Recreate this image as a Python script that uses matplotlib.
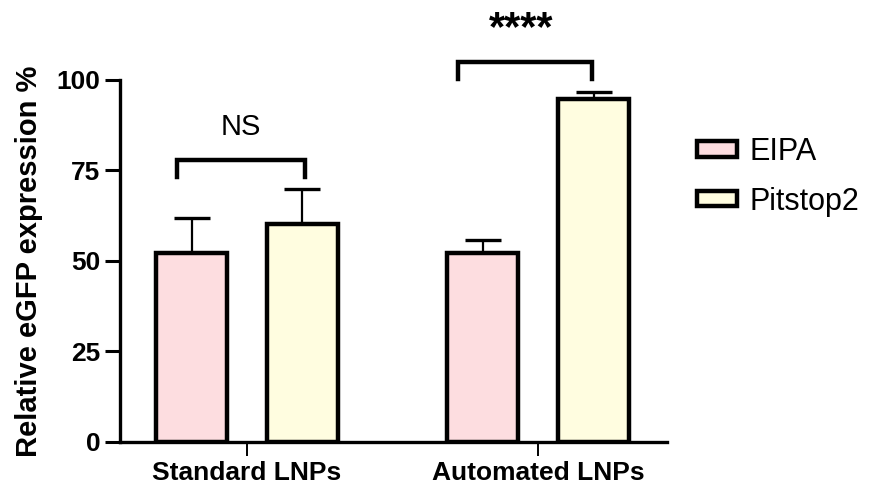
import numpy as np
import matplotlib.pyplot as plt
from matplotlib.patches import Patch

plt.rcParams['font.family'] = ['Liberation Sans', 'DejaVu Sans']

groups = ['Standard LNPs', 'Automated LNPs']
treatments = ['EIPA', 'Pitstop2']
eipa_mean = [52.2, 52.2]
eipa_err = [9.7, 3.6]
pitstop_mean = [60.2, 94.7]
pitstop_err = [9.7, 2.0]
sig_labels = ['NS', '****']
colors = ['#fddde0', '#fffde0']

x = np.arange(len(groups))
width = 0.244
offset = 0.19

fig = plt.figure(figsize=(8.7, 4.9), dpi=100)
ax = fig.add_axes([0.138, 0.098, 0.629, 0.739])

for means, errs, shift, c in [(eipa_mean, eipa_err, -offset, colors[0]),
                              (pitstop_mean, pitstop_err, offset, colors[1])]:
    ax.errorbar(x + shift, means, yerr=[np.zeros(len(errs)), errs], fmt='none',
                ecolor='black', elinewidth=1.6, capsize=13, capthick=2.4, zorder=1)
    ax.bar(x + shift, means, width, color=c, edgecolor='black', linewidth=3.2,
           zorder=2)

# significance brackets
bracket_top = [77.9, 105.0]
bracket_leg = [73.2, 100.3]
bracket_span = [(-0.24, 0.20), (-0.275, 0.186)]
for i in range(len(groups)):
    x0, x1 = x[i] + bracket_span[i][0], x[i] + bracket_span[i][1]
    ax.plot([x0, x0, x1, x1], [bracket_leg[i], bracket_top[i], bracket_top[i], bracket_leg[i]],
            color='black', lw=3.2, clip_on=False, solid_joinstyle='miter')
ax.text(x[0] - 0.02, 87.0, sig_labels[0], ha='center', va='center',
        fontsize=21, clip_on=False)
ax.text(x[1] - 0.06, 114.0, sig_labels[1], ha='center', va='center',
        fontsize=30, fontweight='bold', clip_on=False)

ax.set_xlim(-0.436, 1.443)
ax.set_ylim(0, 100)
ax.set_yticks([0, 25, 50, 75, 100])
ax.set_xticks(x)
ax.set_xticklabels(groups, fontsize=19, fontweight='bold')
for lbl in ax.get_yticklabels():
    lbl.set_fontsize(19)
    lbl.set_fontweight('bold')
ax.tick_params(axis='y', length=11, width=2.2, pad=3)
ax.tick_params(axis='x', length=10, width=1.4, pad=4)
ax.set_ylabel('Relative eGFP expression %', fontsize=21, fontweight='bold', labelpad=10)

for side in ['top', 'right']:
    ax.spines[side].set_visible(False)
for side in ['left', 'bottom']:
    ax.spines[side].set_linewidth(2.4)

handles = [Patch(facecolor=c, edgecolor='black', linewidth=3.2) for c in colors]
fig.legend(handles, treatments, loc='upper left', bbox_to_anchor=(0.77, 0.777),
           frameon=False, fontsize=22, handlelength=1.3, handleheight=0.4,
           labelspacing=0.65, handletextpad=0.4)

fig.savefig('out.png', dpi=100)
